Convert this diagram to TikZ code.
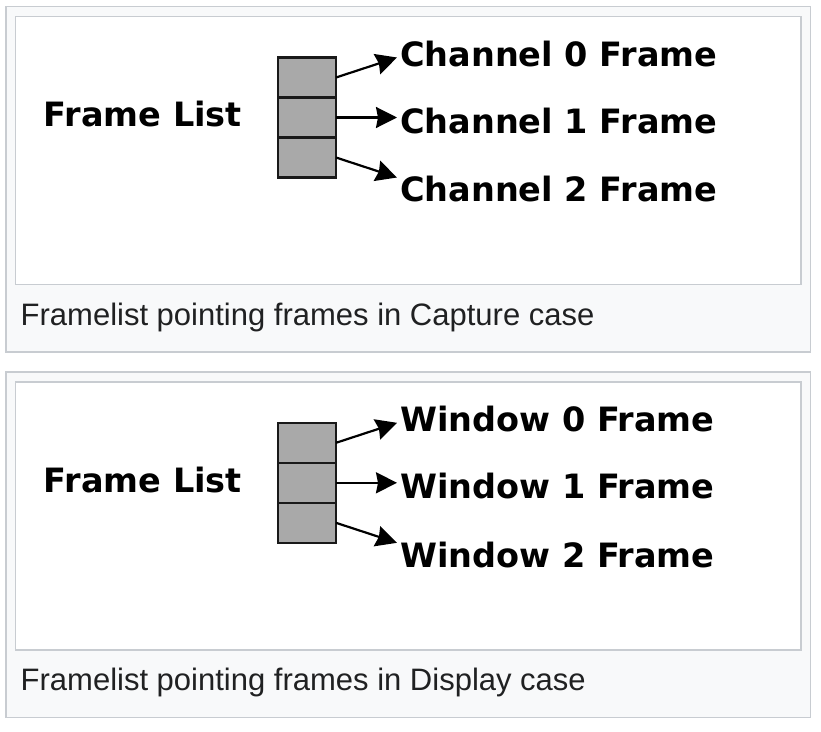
\documentclass[tikz,border=0pt]{standalone}
\usepackage{fontspec}
\setmainfont{Liberation Sans}
\newfontfamily\labelfont{DejaVu Sans}
\usetikzlibrary{positioning, arrows.meta}
\definecolor{wikiborder}{HTML}{C8CCD1}
\definecolor{wikibg}{HTML}{F8F9FA}
\definecolor{wikitext}{HTML}{202122}
\definecolor{cellgray}{HTML}{A9A9A9}
\tikzset{
  cell/.style={rectangle, draw=black!90, fill=cellgray, line width=2.2pt,
               minimum width=58pt, minimum height=40pt,
               inner sep=0pt, outer sep=0pt},
  listlbl/.style={font=\labelfont\bfseries\fontsize{33.5}{40}\selectfont,
                  inner sep=3pt},
  framelbl/.style={font=\labelfont\bfseries\fontsize{33.5}{40}\selectfont,
                   inner sep=3pt, anchor=base west},
  caption/.style={font=\fontsize{31}{36}\selectfont, text=wikitext,
                  inner sep=0pt, anchor=base west},
  outerbox/.style={draw=wikiborder, fill=wikibg, line width=1.5pt},
  innerbox/.style={draw=wikiborder, fill=white, line width=1.5pt},
  arr/.style={-{Stealth[length=21pt, width=21pt, inset=2pt]}, line width=2.2pt},
}

\begin{document}
\begin{tikzpicture}[x=1pt, y=-1pt]
  \useasboundingbox (0,0) rectangle (821,731);

  % capture case
  \draw[outerbox] (6,6.7) rectangle (810.5,352);
  \draw[innerbox] (15.5,16.7) rectangle (801,284.7);
  \node[cell] (cap1) at (307,77.5) {};
  \node[cell, below=0pt of cap1] (cap2) {};
  \node[cell, below=0pt of cap2] (cap3) {};
  \node[listlbl, left=33pt of cap2, yshift=3pt] (caplist) {Frame List};
  \node[framelbl] (capch0) at (397,66) {Channel 0 Frame};
  \node[framelbl] (capch1) at (397,133.3) {Channel 1 Frame};
  \node[framelbl] (capch2) at (397,201.7) {Channel 2 Frame};
  \draw[arr] (cap1.east) -- (capch0.west |- cap1.north);
  \draw[arr] (cap2.east) -- (capch1.west |- cap2.east);
  \draw[arr] (cap3.east) -- (capch2.west |- cap3.south);
  \node[caption] (capcaption) at (20.5,325) {Framelist pointing frames in Capture case};

  % display case
  \begin{scope}[shift={(0,365.3)}]
    \draw[outerbox] (6,6.7) rectangle (810.5,352);
    \draw[innerbox] (15.5,16.7) rectangle (801,284.7);
    \node[cell] (dsp1) at (307,77.5) {};
    \node[cell, below=0pt of dsp1] (dsp2) {};
    \node[cell, below=0pt of dsp2] (dsp3) {};
    \node[listlbl, left=33pt of dsp2, yshift=3pt] (dsplist) {Frame List};
    \node[framelbl] (dspwin0) at (397,66) {Window 0 Frame};
    \node[framelbl] (dspwin1) at (397,133.3) {Window 1 Frame};
    \node[framelbl] (dspwin2) at (397,201.7) {Window 2 Frame};
    \draw[arr] (dsp1.east) -- (dspwin0.west |- dsp1.north);
    \draw[arr] (dsp2.east) -- (dspwin1.west |- dsp2.east);
    \draw[arr] (dsp3.east) -- (dspwin2.west |- dsp3.south);
    \node[caption] (dspcaption) at (20.5,325) {Framelist pointing frames in Display case};
  \end{scope}
\end{tikzpicture}
\end{document}
